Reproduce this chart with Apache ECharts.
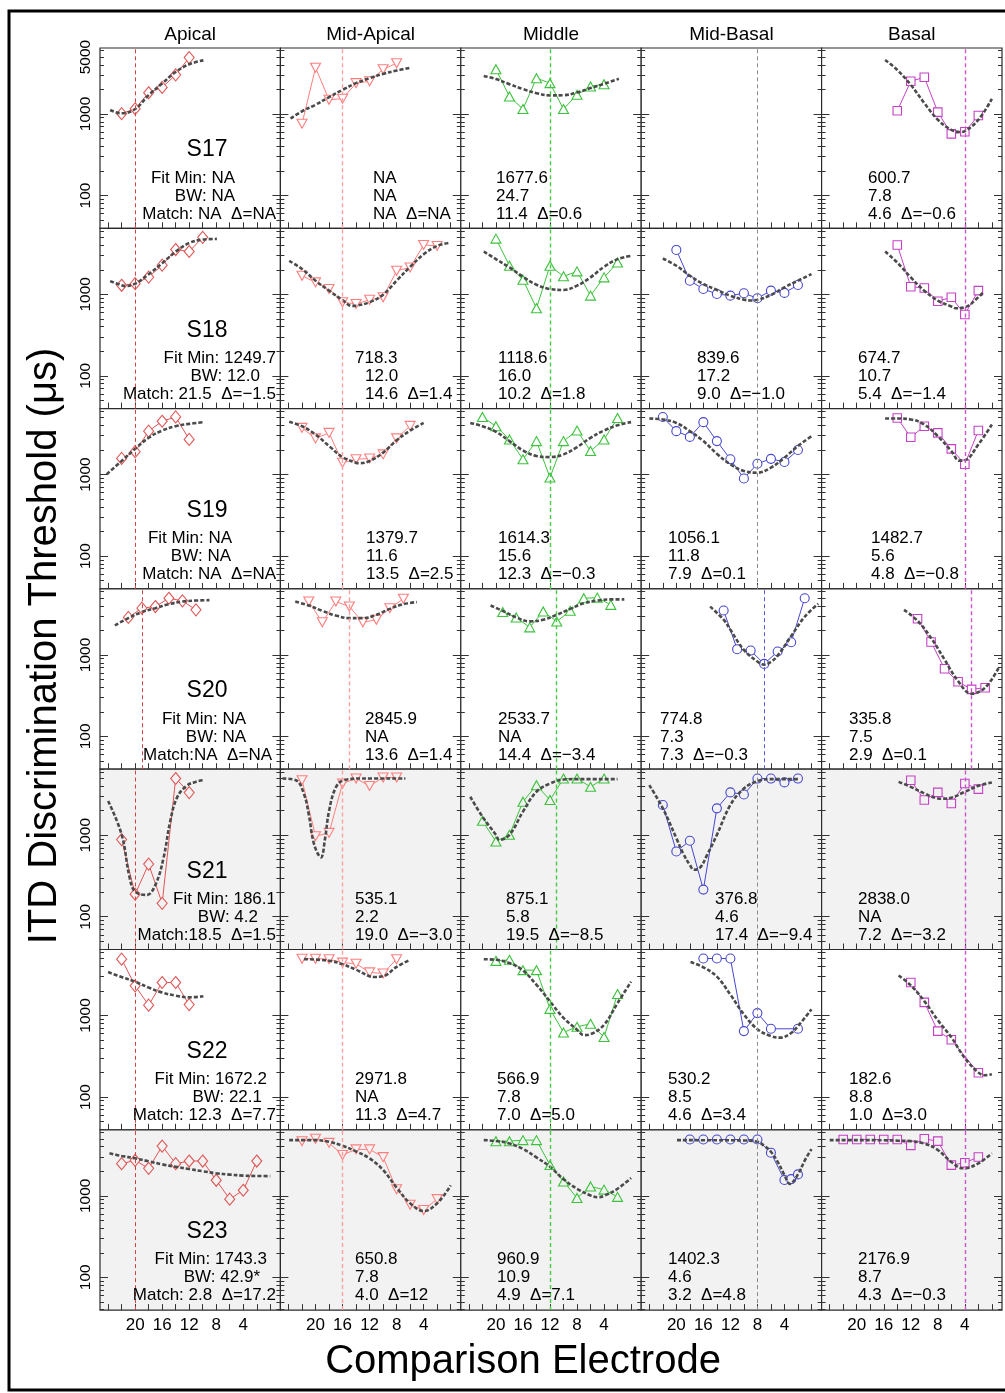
<!DOCTYPE html>
<html><head><meta charset="utf-8">
<script src="https://cdn.jsdelivr.net/npm/echarts@6/dist/echarts.min.js"></script>
<style>html,body{margin:0;padding:0;background:#fff}#c{width:1005px;height:1393px}</style>
</head><body><div id="c"></div>
<script>
// ---------------- DATA ----------------
const columns = ['Apical', 'Mid-Apical', 'Middle', 'Mid-Basal', 'Basal'];
const subjects = ['S17', 'S18', 'S19', 'S20', 'S21', 'S22', 'S23'];
const yTickLabels = [100, 1000, 5000];
const xTickLabels = [20, 16, 12, 8, 4];
const refElectrode = [
  [20, 16, 12, 8, 4], [20, 16, 12, 8, 4], [20, 16, 12, 8, 4], [19, 15, 11, 7, 3],
  [20, 16, 11, 8, 4], [20, 16, 12, 8, 4], [20, 16, 12, 8, 4]
];

const apicalElectrodes = [
  [22,20,18,16,14,12], [22,20,18,16,14,12,10], [22,20,18,16,14,12], [21,19,17,15,13,11],
  [22,20,18,16,14,12], [22,20,18,16,14,12], [22,20,18,16,14,12,10,8,6,4,2]
];
const apicalThreshold = [
  [1010,1160,1820,2120,3020,4920],
  [1290,1350,1625,2275,3540,3350,5000],
  [1580,1910,3410,4510,5100,2700],
  [2880,3740,3920,4950,4600,3570],
  [884,189,442,146,4960,3330],
  [4910,2310,1340,2540,2540,1360],
  [2480,2720,2170,4070,2480,2670,2670,1550,910,1170,2670]
];
const apicalFitElectrodes = [
  [23.7,22,20,18,16,14,12,9.9],
  [23.7,22,21.5,20,18,16,14,12,10,7.9],
  [24.2,22,20,18,16,14,12,9.9],
  [23,21,19,17,15,13,11,9],
  [24,22,20.8,20,18.3,17,15.8,14.8,13.8,12.4,10.9,9.9],
  [24,22,20,18,16,14,12,9.9],
  [23.8,22,20,18,16,14,12,10,8,6,4,2,0]
];
const apicalFitThreshold = [
  [1120,1020,1150,1705,2370,3280,4070,4550],
  [1450,1290,1260,1350,1760,2400,3330,4260,4690,4780],
  [1010,1470,2070,2830,3470,3920,4190,4400],
  [2300,2830,3350,3740,4190,4510,4640,4700],
  [2630,1020,298,204,185,246,525,1490,2890,4020,4550,4730],
  [3410,2960,2600,2200,1910,1750,1670,1720],
  [3320,3080,2880,2650,2430,2270,2130,2000,1890,1820,1770,1750,1745]
];

const midApicalElectrodes = [
  [22,20,18,16,14,12,10,8], [22,20,18,16,14,12,10,8,6,4,2], [22,20,18,16,14,12,10,8,6],
  [21,19,17,15,13,11,9,7], [22,20,18,16,14,12,10,8], [22,20,18,16,14,12,10,8],
  [22,20,18,16,14,12,10,8,6,4,2]
];
const midApicalThreshold = [
  [760,3700,1495,1540,2390,2520,3540,4190],
  [1690,1400,1160,800,762,855,919,1945,2135,4030,3920],
  [3740,2780,3250,1400,1540,1580,1770,2780,3960],
  [4510,2510,4510,3920,2510,2700,3740,4870],
  [4730,972,1068,4300,4960,4020,5100,5100],
  [4970,4970,4910,4450,4320,3380,3280,4910],
  [4680,5000,4460,3170,3710,3710,2980,1200,776,670,910]
];
const midApicalFitElectrodes = [
  [23.7,22,20,18,16,14,12,10,8,5.9],
  [23.9,22,20,18,16,14.6,14,12,10,8,6,4,2,0.1],
  [23.9,22,20,18,16,14,13.5,12,10,8,6,4],
  [23,21,19,17,15,13,11,9,7,5],
  [24.9,22.9,21.7,21,20.2,19.2,18.6,18,17,15.8,13.1,6.7],
  [21.7,18,16,14,12,11.3,10,8,6],
  [23.9,20,18,16,14,12,10,8,6,4,2,0]
];
const midApicalFitThreshold = [
  [880,1080,1300,1610,1980,2390,2750,3100,3410,3700],
  [2575,2040,1470,1108,850,720,725,800,990,1470,2170,3100,3920,4300],
  [4440,3920,3100,2240,1640,1400,1380,1468,1860,2630,3470,4300],
  [4510,4030,3470,3040,2825,2825,3100,3670,4190,4440],
  [4960,4730,3180,1800,767,535,900,1980,3840,4730,4960,4960],
  [4910,4700,4250,3640,3030,2970,3030,3950,4820],
  [4820,4820,4600,4110,3500,2880,2070,1260,810,650,810,1340]
];

const middleElectrodes = [
  [20,18,16,14,12,10,8,6,4], [20,18,16,14,12,10,8,6,4,2], [22,20,18,16,14,12,10,8,6,4,2],
  [19,17,15,13,11,9,7,5,3], [22,20,18,16,14,12,10,8,6,4], [20,18,16,14,12,10,8,6,4,2],
  [20,18,16,14,12,10,8,6,4,2]
];
const middleThreshold = [
  [3540,1640,1150,2750,2390,1150,1720,2180,2320],
  [4820,2240,1510,675,2240,1660,1910,963,1612,2450],
  [5100,3920,2700,1540,2575,919,2575,3470,1945,2700,4950],
  [3350,2880,2175,3410,2575,3470,4950,5040,4110],
  [1500,837,1010,2575,4110,2700,4950,4950,3920,4950],
  [4680,4820,3600,3600,1205,620,726,790,545,1830],
  [4680,4680,4820,4820,2380,1500,940,1300,1190,970]
];
const middleFitElectrodes = [
  [21.8,20,18,16,14,12,10,8,6,4,1.8],
  [21.8,20,18,16,14,12,10,8,6,4,2,0],
  [23.8,22,20,18,16,14,12,10,8,6,4,2,0],
  [20.8,19,17,15,13,11,9,7,5,3,1],
  [23.8,22,20,19.5,18,16,14,12,10,8,2],
  [21.8,20,18,16,14,12,10,8,7,6,4,2,0],
  [21.8,20,18,16,14,12,10,8,6,4.9,4,2,0]
];
const middleFitThreshold = [
  [2930,2680,2320,2020,1800,1690,1700,1830,2080,2345,2700],
  [3350,2700,2135,1640,1310,1160,1130,1275,1612,2175,2700,2960],
  [4300,3920,3350,2575,1980,1690,1640,1770,2175,2825,3470,4030,4400],
  [4030,3470,2880,2575,2700,3100,3670,4300,4640,4800,4800],
  [2960,1690,1010,877,1010,1945,3410,4300,4820,4870,4870],
  [4900,4820,4400,3550,2380,1490,935,670,575,590,770,1420,2600],
  [4820,4700,4380,3750,2960,2270,1600,1220,1010,961,1000,1220,1650]
];

const midBasalElectrodes = [
  [], [20,18,16,14,12,10,8,6,4,2], [22,20,18,16,14,12,10,8,6,4,2], [13,11,9,7,5,3,1],
  [22,20,18,16,14,12,10,8,6,4,2], [16,14,12,10,8,6,2], [18,16,14,12,10,8,6,4,3,2]
];
const midBasalThreshold = [
  [],
  [3500,1468,1160,1010,963,1030,895,1108,1040,1300],
  [5080,3410,2900,4400,2575,1540,895,1360,1560,1430,2000],
  [3500,1175,1130,775,1100,1430,4960],
  [2345,632,855,215,2135,3350,3160,4950,4950,4440,4950],
  [5000,5000,5000,643,1070,687,687],
  [4900,4900,4900,4900,4900,4900,3380,1560,1600,1830]
];
const midBasalFitElectrodes = [
  [],
  [22,20,18,16,14,12,10,9,8,6,4,2,0],
  [24,22,20,18,16,14,12,10,8,6,4,2,0],
  [15,13,12,10,8,7,6,5,3,1,-1],
  [24,22,20,19,18,17.4,16.5,15.5,14,12,10,8,6,2],
  [17.9,16,14,12,10,8,6,4.6,3,2,0],
  [19.9,14,10,8,7,6,5,4,3.2,2,1,0]
];
const midBasalFitThreshold = [
  [],
  [2750,2240,1690,1337,1130,960,860,840,855,980,1217,1468,1770],
  [4870,4750,4300,3410,2575,1800,1337,1108,1055,1217,1612,2240,2960],
  [3910,2700,2030,1150,830,760,820,980,1700,2940,4230],
  [4110,2135,919,600,430,377,400,560,1010,2345,3740,4600,4870,4870],
  [4520,3900,3000,1800,1030,680,560,535,610,740,1190],
  [4820,4800,4770,4600,4100,3470,2600,1800,1402,1830,2700,3740]
];

const basalElectrodes = [
  [14,12,10,8,6,4,2], [14,12,10,8,6,4,2], [14,12,10,8,6,4,2], [11,9,7,5,3,1],
  [12,10,8,6,4,2], [12,10,8,6,2], [22,20,18,16,14,12,10,8,6,4,2]
];
const basalThreshold = [
  [1095,2520,2825,1055,570,605,960],
  [4030,1240,1195,820,919,565,1108],
  [4950,2870,3920,3250,2070,1337,3470],
  [2780,1440,675,468,378,396],
  [4720,2700,3350,2450,4300,3670],
  [2540,1450,643,505,198],
  [4900,4900,4900,4900,4900,4150,5000,4680,2380,2540,2990]
];
const basalFitElectrodes = [
  [15.8,14,12,10,8,6,4.6,4,2,0],
  [15.8,14,12,10,8,6,5.4,4,2,1.3],
  [15.8,14,12,10,8,6,4.8,4,2,0],
  [13,11,9,7,5,3,1,-1],
  [13.8,12,10,8,7.2,6,4,2,0],
  [13.8,12,10,8,6,4,2,1,0],
  [24,20,16,14,12,10,8,6,4.3,4,2,0]
];
const basalFitThreshold = [
  [4600,3470,2280,1360,850,640,601,615,850,1530],
  [3350,2450,1612,1108,837,708,675,694,919,1060],
  [4870,4870,4750,4110,2960,1945,1483,1500,2345,4110],
  [3570,2620,1612,877,477,335,396,694],
  [4510,3920,3250,2825,2800,2880,3410,4030,4440],
  [3100,2340,1500,875,540,300,200,185,190],
  [4820,4820,4800,4750,4680,4380,3650,2600,2177,2180,2500,3320]
];

// annotation texts [subject][column]
const fitMinText = [
  ['NA','NA','1677.6','','600.7'],
  ['1249.7','718.3','1118.6','839.6','674.7'],
  ['NA','1379.7','1614.3','1056.1','1482.7'],
  ['NA','2845.9','2533.7','774.8','335.8'],
  ['186.1','535.1','875.1','376.8','2838.0'],
  ['1672.2','2971.8','566.9','530.2','182.6'],
  ['1743.3','650.8','960.9','1402.3','2176.9']
];
const bwText = [
  ['NA','NA','24.7','','7.8'],
  ['12.0','12.0','16.0','17.2','10.7'],
  ['NA','11.6','15.6','11.8','5.6'],
  ['NA','NA','NA','7.3','7.5'],
  ['4.2','2.2','5.8','4.6','NA'],
  ['22.1','NA','7.8','8.5','8.8'],
  ['42.9*','7.8','10.9','4.6','8.7']
];
const matchText = [
  ['NA','NA','11.4','','4.6'],
  ['21.5','14.6','10.2','9.0','5.4'],
  ['NA','13.5','12.3','7.9','4.8'],
  ['NA','13.6','14.4','7.3','2.9'],
  ['18.5','19.0','19.5','17.4','7.2'],
  ['12.3','11.3','7.0','4.6','1.0'],
  ['2.8','4.0','4.9','3.2','4.3']
];
const deltaText = [
  ['NA','NA','0.6','','−0.6'],
  ['−1.5','1.4','1.8','−1.0','−1.4'],
  ['NA','2.5','−0.3','0.1','−0.8'],
  ['NA','1.4','−3.4','−0.3','0.1'],
  ['1.5','−3.0','−8.5','−9.4','−3.2'],
  ['7.7','4.7','5.0','3.4','3.0'],
  ['17.2','12','7.1','4.8','−0.3']
];

// ---------------- LAYOUT / STYLE ----------------
const FONT = '"Liberation Sans", Arial, sans-serif';
const L0 = 100, T0 = 48, PW = 180.4, PH = 180.3;
const X_MIN = -1.5, X_MAX = 25.2;
const Y_MIN = 39.6, Y_MAX = 6450;
const shadedRows = [false, false, false, false, true, false, true];
const markerColor = ['#e05555', '#ff7f7f', '#3cc23c', '#4646d0', '#c640c6'];
const refColor = ['#d04444', '#ffa0a0', '#44cc44', '#8a8a8a', '#cc55cc'];
const refColorOverride = { '3-3': '#5a5ad8' };
const markerSymbol = ['diamond', 'triangle', 'triangle', 'circle', 'rect'];
const markerRotate = [0, 180, 0, 0, 0];
const markerSize = [[10, 12], [10, 9], [10, 9], [9, 9], [8.5, 8.5]];
const apicalMatchSep = [' ', ' ', ' ', '', '', ' ', ' '];
const apicalRight = [[235,235,276],[276,260,276],[232,231,276],[246,246,272],[276,258,276],[267,262,276],[267,260,276]];
const textLeft = [
  [null, [373,373,373], [496,496,496], [0,0,0], [868,868,868]],
  [null, [355,365,365], [498,498,498], [697,697,697], [858,858,858]],
  [null, [366,366,366], [498,498,498], [668,668,668], [871,871,871]],
  [null, [365,365,365], [498,498,498], [660,660,660], [849,849,849]],
  [null, [355,355,355], [506,506,506], [715,715,715], [858,858,858]],
  [null, [355,355,355], [497,497,497], [668,668,668], [849,849,849]],
  [null, [355,355,355], [497,497,497], [668,668,668], [858,858,858]]
];

const colData = [
  [apicalElectrodes, apicalThreshold, apicalFitElectrodes, apicalFitThreshold],
  [midApicalElectrodes, midApicalThreshold, midApicalFitElectrodes, midApicalFitThreshold],
  [middleElectrodes, middleThreshold, middleFitElectrodes, middleFitThreshold],
  [midBasalElectrodes, midBasalThreshold, midBasalFitElectrodes, midBasalFitThreshold],
  [basalElectrodes, basalThreshold, basalFitElectrodes, basalFitThreshold]
];

const xTickValues = [0,2,4,6,8,10,12,14,16,18,20,22,24];
const yMajor = [100, 1000];
const yMinor = [40,50,60,70,80,90,200,300,400,500,600,700,800,900,2000,3000,4000,5000,6000];
const lg = v => Math.log10(v);
const zip = (a, b) => a.map((v, i) => [v, b[i]]);

const grids = [], xAxes = [], yAxes = [], series = [], graphics = [];

for (let r = 0; r < subjects.length; r++) {
  for (let c = 0; c < columns.length; c++) {
    const gi = grids.length;
    const left = L0 + c * PW, top = T0 + r * PH;
    const bg = shadedRows[r] ? '#f2f2f2' : '#ffffff';
    grids.push({ left, top, width: PW, height: PH, show: true, backgroundColor: bg,
      borderColor: '#2a2a2a', borderWidth: 1.2 });
    xAxes.push({ gridIndex: gi, type: 'value', min: X_MIN, max: X_MAX, inverse: true, position: 'bottom',
      axisLine: { show: false }, splitLine: { show: false },
      axisTick: { show: true, inside: true, length: 6, customValues: xTickValues, lineStyle: { color: '#333', width: 1 } },
      axisLabel: { show: r === subjects.length - 1, customValues: xTickLabels, color: '#000', fontSize: 17, fontFamily: FONT, margin: 7 } });
    const yb = yAxes.length;
    yAxes.push({ gridIndex: gi, type: 'log', logBase: 10, min: Y_MIN, max: Y_MAX, position: 'left', show: false });
    const yLabelVals = (r === 0 ? yTickLabels : yTickLabels.slice(0, 2)).map(lg);
    const valAxis = (pos, ticks, len, labels) => ({
      gridIndex: gi, type: 'value', min: lg(Y_MIN), max: lg(Y_MAX), position: pos,
      axisLine: { show: false }, splitLine: { show: false },
      axisTick: { show: true, inside: true, length: len, customValues: ticks.map(lg), lineStyle: { color: '#333', width: 1 } },
      axisLabel: labels ? { show: true, customValues: yLabelVals, rotate: 90, margin: 6, color: '#000', fontSize: 15.5, fontFamily: FONT,
        formatter: v => String(Math.round(Math.pow(10, v))) } : { show: false }
    });
    yAxes.push(valAxis('left', yMajor, 8, c === 0));
    yAxes.push(valAxis('left', yMinor, 4, false));
    yAxes.push(valAxis('right', yMajor, 8, false));
    yAxes.push(valAxis('right', yMinor, 4, false));

    const [E, TH, FE, FT] = colData[c];
    const rc = refColorOverride[r + '-' + c] || refColor[c];
    // reference electrode dashed line
    series.push({ type: 'line', xAxisIndex: gi, yAxisIndex: yb, data: [], silent: true, z: 1,
      markLine: { silent: true, symbol: ['none', 'none'], label: { show: false }, animation: false,
        lineStyle: { color: rc, type: [4, 3], width: c === 0 || c === 3 ? 1 : 1.4 },
        data: [{ xAxis: refElectrode[r][c] }] } });
    if (E[r].length) {
      series.push({ type: 'line', xAxisIndex: gi, yAxisIndex: yb, data: zip(E[r], TH[r]), z: 3,
        symbol: markerSymbol[c], symbolRotate: markerRotate[c], symbolSize: markerSize[c], showSymbol: true,
        lineStyle: { color: markerColor[c], width: 1 },
        itemStyle: { color: bg, borderColor: markerColor[c], borderWidth: 1.1 } });
    }
    if (FE[r].length) {
      series.push({ type: 'line', xAxisIndex: gi, yAxisIndex: yb, data: zip(FE[r], FT[r]), z: 4,
        smooth: 0.4, showSymbol: false, symbol: 'none',
        lineStyle: { color: '#4a4a4a', width: 2.6, type: [4, 2] } });
    }

    // annotations
    const ys = [top + 130, top + 148, top + 166];
    const tStyle = (text, x, y, align) => ({ type: 'text', x, y, silent: true, z: 50,
      style: { text, fill: '#000', font: '17px ' + FONT, align, verticalAlign: 'middle' } });
    if (c === 0) {
      graphics.push(tStyle('Fit Min: ' + fitMinText[r][c], apicalRight[r][0], ys[0], 'right'));
      graphics.push(tStyle('BW: ' + bwText[r][c], apicalRight[r][1], ys[1], 'right'));
      graphics.push(tStyle('Match:' + apicalMatchSep[r] + matchText[r][c] + '  Δ=' + deltaText[r][c], apicalRight[r][2], ys[2], 'right'));
    } else if (fitMinText[r][c] !== '') {
      const tl = textLeft[r][c];
      graphics.push(tStyle(fitMinText[r][c], tl[0], ys[0], 'left'));
      graphics.push(tStyle(bwText[r][c], tl[1], ys[1], 'left'));
      graphics.push(tStyle(matchText[r][c] + '  Δ=' + deltaText[r][c], tl[2], ys[2], 'left'));
    }
    if (c === 0) {
      graphics.push({ type: 'text', x: 207, y: top + 102, silent: true, z: 50,
        style: { text: subjects[r], fill: '#000', font: '23px ' + FONT, align: 'center', verticalAlign: 'middle' } });
    }
  }
}

// column titles
columns.forEach((name, c) => {
  graphics.push({ type: 'text', x: L0 + c * PW + PW / 2, y: 35, silent: true,
    style: { text: name, fill: '#000', font: '19px ' + FONT, align: 'center', verticalAlign: 'middle' } });
});
// axis titles
graphics.push({ type: 'text', x: 45, y: 646, rotation: Math.PI / 2, silent: true,
  style: { text: 'ITD Discrimination Threshold (μs)', fill: '#000', font: '40px ' + FONT, align: 'center', verticalAlign: 'middle' } });
graphics.push({ type: 'text', x: 523, y: 1362, silent: true,
  style: { text: 'Comparison Electrode', fill: '#000', font: '40px ' + FONT, align: 'center', verticalAlign: 'middle' } });
// outer frame
graphics.push({ type: 'rect', silent: true, z: 60, shape: { x: 9, y: 11, width: 1010, height: 1379 },
  style: { fill: 'none', stroke: '#000', lineWidth: 3 } });

const chart = echarts.init(document.getElementById('c'), null, { renderer: 'canvas' });
chart.setOption({
  animation: false,
  backgroundColor: '#ffffff',
  grid: grids, xAxis: xAxes, yAxis: yAxes, series, graphic: graphics
});
</script></body></html>
